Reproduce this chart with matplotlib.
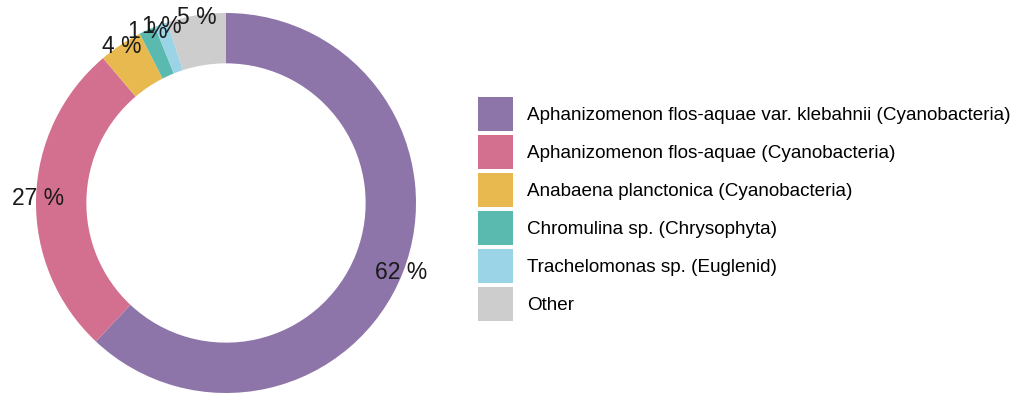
import matplotlib
matplotlib.use("Agg")
import matplotlib.pyplot as plt
import numpy as np

categories = [
    "Aphanizomenon flos-aquae var. klebahnii (Cyanobacteria)",
    "Aphanizomenon flos-aquae (Cyanobacteria)",
    "Anabaena planctonica (Cyanobacteria)",
    "Chromulina sp. (Chrysophyta)",
    "Trachelomonas sp. (Euglenid)",
    "Other",
]
values = [62.0, 26.8, 3.7, 1.4, 1.1, 5.0]
labels = ["62 %", "27 %", "4 %", "1 %", "1 %", "5 %"]
colors = ["#8E75A9", "#D4708F", "#E8B94F", "#5ABAAF", "#9AD4E6", "#CDCDCD"]

plt.rcParams["font.family"] = ["Liberation Sans", "DejaVu Sans"]

W, H = 1028, 396
fig = plt.figure(figsize=(W / 100, H / 100), dpi=100)
cx, cy, R = 226, 203, 190
ax = fig.add_axes([(cx - R) / W, (H - cy - R) / H, 2 * R / W, 2 * R / H])
wedges, _ = ax.pie(values, colors=colors, startangle=90, counterclock=False,
                   radius=1.0, wedgeprops=dict(width=0.265, linewidth=0))
ax.set_xlim(-1, 1)
ax.set_ylim(-1, 1)
ax.set_aspect("equal")
ax.axis("off")

total = sum(values)
cum = 0
for v, lab in zip(values, labels):
    mid = (cum + v / 2) / total
    ang = np.pi / 2 - 2 * np.pi * mid
    ax.text(np.cos(ang) * 0.99, np.sin(ang) * 0.99, lab, ha="center", va="center",
            fontsize=16.5, color="#1a1a1a", clip_on=False)
    cum += v

fs = 13.6
fspx = fs * 100 / 72
fig.legend(wedges, categories, loc="upper left",
           bbox_to_anchor=(478 / W, 1 - 97 / H), frameon=False, borderpad=0,
           borderaxespad=0, fontsize=fs, handlelength=35 / fspx,
           handleheight=2.39, labelspacing=4 / fspx, handletextpad=14 / fspx)

fig.savefig("out.png", dpi=100)
